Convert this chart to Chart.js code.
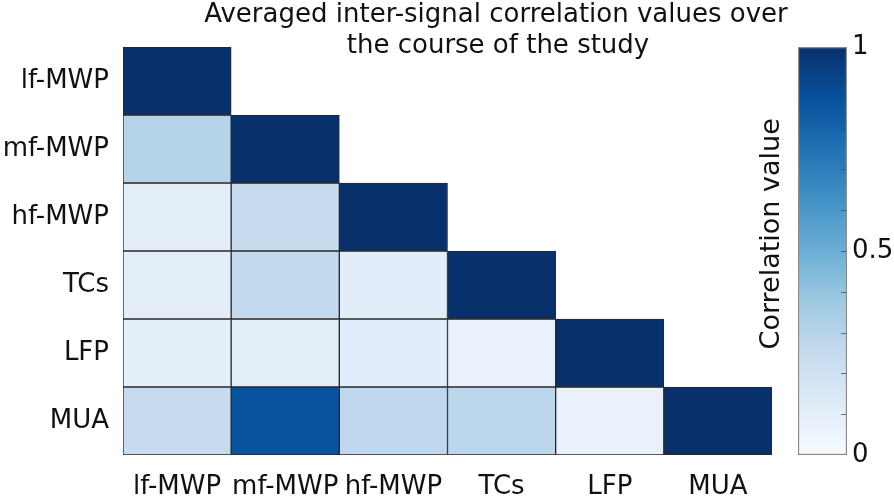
<!DOCTYPE html>
<html>
<head>
<meta charset="utf-8">
<script src="https://cdn.jsdelivr.net/npm/chart.js@4.4.1/dist/chart.umd.min.js"></script>
<style>
  html, body { margin: 0; padding: 0; background: #ffffff; }
  #wrap { position: relative; width: 894px; height: 503px; }
  #main { position: absolute; left: 0; top: 0; }
  #cbar { position: absolute; left: 740px; top: 0; }
</style>
</head>
<body>
<div id="wrap">
  <canvas id="main" width="894" height="503"></canvas>
  <canvas id="cbar" width="154" height="503"></canvas>
</div>
<script>
// ---- data ----
const signals = ['lf-MWP', 'mf-MWP', 'hf-MWP', 'TCs', 'LFP', 'MUA'];
const rowLfMWP = [1.00];
const rowMfMWP = [0.30, 1.00];
const rowHfMWP = [0.10, 0.24, 1.00];
const rowTCs   = [0.10, 0.26, 0.11, 1.00];
const rowLFP   = [0.09, 0.10, 0.11, 0.07, 1.00];
const rowMUA   = [0.25, 0.87, 0.27, 0.28, 0.07, 1.00];
const corrRows = [rowLfMWP, rowMfMWP, rowHfMWP, rowTCs, rowLFP, rowMUA];
const titleLines = ['Averaged inter-signal correlation values over', 'the course of the study'];
const colorbarTitle = 'Correlation value';
const colorbarTicks = [0, 0.5, 1];
const colorbarMinorTicks = [0.1, 0.2, 0.3, 0.4, 0.5, 0.6, 0.7, 0.8, 0.9];

// ---- colormap (Blues) ----
const blues = ['#f7fbff','#deebf7','#c6dbef','#9ecae1','#6baed6','#4292c6','#2171b5','#08519c','#08306b'];
function hexToRgb(h){ return [parseInt(h.substr(1,2),16), parseInt(h.substr(3,2),16), parseInt(h.substr(5,2),16)]; }
function colorFor(v){
  v = Math.max(0, Math.min(1, v));
  const p = v * (blues.length - 1);
  const i = Math.min(Math.floor(p), blues.length - 2);
  const t = p - i;
  const a = hexToRgb(blues[i]), b = hexToRgb(blues[i+1]);
  const c = a.map((x, k) => Math.round(x + (b[k] - x) * t));
  return `rgb(${c[0]},${c[1]},${c[2]})`;
}

const FONT = "'DejaVu Sans', sans-serif";

// ---- heatmap datasets (one per row) ----
const datasets = corrRows.map((row, r) => ({
  label: signals[r],
  data: signals.map((_, c) => c < row.length ? [r - 0.5, r + 0.5] : null),
  backgroundColor: signals.map((_, c) => c < row.length ? colorFor(row[c]) : 'rgba(0,0,0,0)'),
  borderColor: '#2a2a2a',
  borderWidth: 1,
  borderSkipped: false,
  grouped: false,
  barPercentage: 1,
  categoryPercentage: 1
}));

const titlePlugin = {
  id: 'twoLineTitle',
  afterDraw(chart) {
    const ctx = chart.ctx;
    ctx.save();
    ctx.font = `26px ${FONT}`;
    ctx.fillStyle = '#111';
    ctx.textAlign = 'center';
    ctx.textBaseline = 'middle';
    ctx.fillText(titleLines[0], 496, 15);
    ctx.fillText(titleLines[1], 498, 46);
    ctx.restore();
  }
};

new Chart(document.getElementById('main'), {
  type: 'bar',
  data: { labels: signals, datasets },
  options: {
    responsive: false,
    animation: false,
    layout: { padding: { left: 0, right: 122, top: 47, bottom: 0 } },
    plugins: { legend: { display: false }, tooltip: { enabled: false }, title: { display: false } },
    scales: {
      x: {
        type: 'category',
        position: 'bottom',
        grid: { display: false, drawTicks: false },
        border: { display: false },
        ticks: { font: { family: FONT, size: 26 }, color: '#111', padding: 17, maxRotation: 0, autoSkip: false },
        afterFit(scale) { scale.height = 48; }
      },
      y: {
        type: 'linear',
        reverse: true,
        min: -0.5,
        max: 5.5,
        grid: { display: false, drawTicks: false },
        border: { display: false },
        afterBuildTicks(scale) { scale.ticks = signals.map((_, i) => ({ value: i })); },
        ticks: {
          font: { family: FONT, size: 26 }, color: '#111', padding: 14, autoSkip: false,
          callback: (v) => signals[Math.round(v)] ?? ''
        },
        afterFit(scale) { scale.width = 123; }
      }
    }
  },
  plugins: [titlePlugin]
});

// ---- colorbar ----
function gradientFill(context) {
  const chart = context.chart;
  const area = chart.chartArea;
  if (!area) return blues[4];
  const g = chart.ctx.createLinearGradient(0, area.bottom, 0, area.top);
  blues.forEach((c, i) => g.addColorStop(i / (blues.length - 1), c));
  return g;
}

const innerTicksPlugin = {
  id: 'innerTicks',
  afterDatasetsDraw(chart) {
    const ctx = chart.ctx;
    const ys = chart.scales.y;
    const right = chart.chartArea.right - 1;
    ctx.save();
    ctx.strokeStyle = 'rgba(30,80,140,0.75)';
    ctx.lineWidth = 1;
    colorbarMinorTicks.forEach(v => {
      const py = Math.round(ys.getPixelForValue(v)) + 0.5;
      ctx.beginPath();
      ctx.moveTo(right - 5, py);
      ctx.lineTo(right, py);
      ctx.stroke();
    });
    ctx.restore();
  }
};

new Chart(document.getElementById('cbar'), {
  type: 'bar',
  data: {
    labels: [''],
    datasets: [{
      data: [[0, 1]],
      backgroundColor: gradientFill,
      borderColor: '#8a8a8a',
      borderWidth: 1.5,
      borderSkipped: false,
      barPercentage: 1,
      categoryPercentage: 1
    }]
  },
  options: {
    responsive: false,
    animation: false,
    layout: { padding: { left: 0, right: 0, top: 47, bottom: 48 } },
    plugins: { legend: { display: false }, tooltip: { enabled: false } },
    scales: {
      x: { display: false },
      y: {
        position: 'right',
        min: 0, max: 1,
        afterBuildTicks(scale) { scale.ticks = colorbarTicks.map(v => ({ value: v })); },
        grid: { display: false, drawTicks: false },
        border: { display: false },
        ticks: {
          autoSkip: false, padding: 5,
          font: { family: FONT, size: 26 }, color: '#111',
          callback: (v) => String(v)
        },
        afterFit(scale) { scale.width = 47; }
      },
      y2: {
        position: 'left',
        min: 0, max: 1,
        grid: { display: false },
        border: { display: false },
        ticks: { display: false },
        title: { display: true, text: '    ' + colorbarTitle, font: { family: FONT, size: 27 }, color: '#111', padding: { top: 16, bottom: 0 } },
        afterFit(scale) { scale.width = 58; }
      }
    }
  },
  plugins: [innerTicksPlugin]
});
</script>
</body>
</html>
